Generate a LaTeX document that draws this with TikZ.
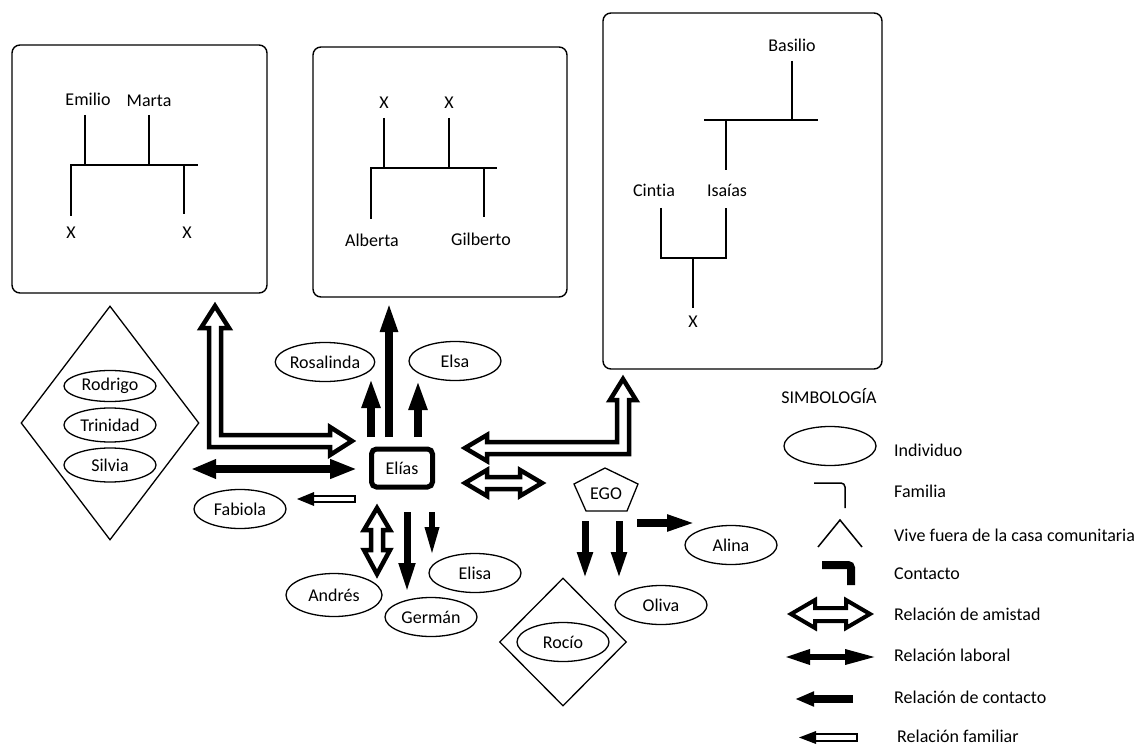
\documentclass[tikz,border=0pt]{standalone}
\usepackage{fontspec}
\setmainfont[Ligatures=CommonOff]{Carlito}
\usetikzlibrary{shapes.geometric,arrows.meta}
\begin{document}
\begin{tikzpicture}[x=1pt,y=-1pt,
  every node/.style={font=\fontsize{18pt}{21pt}\selectfont, inner sep=0pt},
  txt/.style={text height=12pt, text depth=4pt},
  indiv/.style={ellipse, draw, line width=1.3pt, minimum width=92pt, minimum height=39pt},
  famframe/.style={draw, line width=1.4pt, rounded corners=8pt},
  kin/.style={line width=2pt},
  blockarr/.style={draw, line width=4.5pt, fill=white, line join=miter},
  solidarr/.style args={#1/#2/#3}{line width=#1, -{Triangle[length=#2,width=#3]}},
  laboralarr/.style={line width=8pt, {Triangle[length=25pt,width=18pt]}-{Triangle[length=27pt,width=18pt]}},
  famshaft/.style={draw, line width=1.8pt, fill=white},
  famhead/.style={fill=black},
]
\useasboundingbox (0,0) rectangle (1143,746);

% ---------- family frames ----------
\node[famframe, minimum width=255pt, minimum height=248pt] (box1) at (139.5,169) {};
\node[famframe, minimum width=254pt, minimum height=250pt] (box2) at (440,172) {};
\node[famframe, minimum width=279pt, minimum height=356pt] (box3) at (742.5,191) {};

% box 1 tree
\node[txt] (emilio) at (88,102) {Emilio};
\node[txt] (marta) at (149,103) {Marta};
\node[txt] (x1a) at (71,235) {X};
\node[txt] (x1b) at (187,235) {X};
\draw[kin] (85,115) -- (85,165);
\draw[kin] (149,115) -- (149,165);
\draw[kin] (70,165) -- (198,165);
\draw[kin] (71,165) -- (71,216);
\draw[kin] (184,165) -- (184,214);

% box 2 tree
\node[txt] (x2a) at (384,105) {X};
\node[txt] (x2b) at (449,105) {X};
\node[txt] (alberta) at (372,242) {Alberta};
\node[txt] (gilberto) at (481,241) {Gilberto};
\draw[kin] (384,118) -- (384,168);
\draw[kin] (449,118) -- (449,168);
\draw[kin] (370,168) -- (497,168);
\draw[kin] (371,168) -- (371,219);
\draw[kin] (484,168) -- (484,217);

% box 3 tree
\node[txt] (basilio) at (792,48) {Basilio};
\node[txt] (isaias) at (727,193) {Isaías};
\node[txt] (cintia) at (654,193) {Cintia};
\node[txt] (x3) at (693,323) {X};
\draw[kin] (792,61) -- (792,120);
\draw[kin] (704,120) -- (818,120);
\draw[kin] (726,120) -- (726,170);
\draw[kin] (661,208) -- (661,258) -- (726,258) -- (726,208);
\draw[kin] (693,258) -- (693,308);

% ---------- left diamond group ----------
\node[diamond, draw, line width=1.3pt, minimum width=178pt, minimum height=234pt] (fam1) at (110,423) {};
\node[indiv, minimum height=31pt] (rodrigo) at (110,386) {Rodrigo};
\node[indiv, minimum height=34pt] (trinidad) at (110,425) {Trinidad};
\node[indiv, minimum height=34pt] (silvia) at (110,465) {Silvia};

% ---------- individuals ----------
\node[indiv, minimum width=94pt] (rosalinda) at (325,362) {Rosalinda};
\node[indiv] (elsa) at (455,361) {Elsa};
\node[indiv] (fabiola) at (240,509) {Fabiola};
\node[indiv, minimum width=96pt, minimum height=43pt] (andres) at (334,595) {Andrés};
\node[indiv] (german) at (431,617) {Germán};
\node[indiv] (elisa) at (475,573) {Elisa};
\node[indiv] (alina) at (731,545) {Alina};
\node[indiv] (oliva) at (661,605) {Oliva};
\node[diamond, draw, line width=1.3pt, minimum width=127pt, minimum height=128pt] (fam2) at (563,642) {};
\node[indiv] (rocio) at (563,642) {Rocío};

% Elías
\node[draw, line width=5pt, rounded corners=5pt, minimum width=61pt, minimum height=38pt] (elias) at (402,468) {Elías};

% EGO
\node (ego) at (606,494) {EGO};
\draw[line width=1.3pt] (605,468) -- (638,484) -- (627,511) -- (586,511) -- (574,484) -- cycle;

% ---------- block (friendship) arrows ----------
\path[blockarr] (215,306) -- (229,328) -- (221,328) -- (221,435) -- (330,435) -- (330,427) -- (352,441) -- (330,455) -- (330,447) -- (209,447) -- (209,328) -- (201,328) -- cycle;
\path[blockarr] (623,379) -- (636,400) -- (629,400) -- (629,454) -- (487,454) -- (487,461) -- (465,448) -- (487,435) -- (487,442) -- (617,442) -- (617,400) -- (610,400) -- cycle;
\path[blockarr] (465,483) -- (487,470) -- (487,477) -- (520,477) -- (520,470) -- (542,483) -- (520,496) -- (520,489) -- (487,489) -- (487,496) -- cycle;
\path[blockarr] (377,508) -- (390,530) -- (383,530) -- (383,550) -- (390,550) -- (377,574) -- (364,550) -- (371,550) -- (371,530) -- (364,530) -- cycle;

% ---------- solid arrows ----------
\coordinate (a6s) at (389,437); \coordinate (a6e) at (389,302);
\coordinate (a7s) at (371,437); \coordinate (a7e) at (371,378);
\coordinate (a8s) at (418,437); \coordinate (a8e) at (418,380);
\coordinate (a9s) at (407,512); \coordinate (a9e) at (407,593);
\coordinate (a10s) at (432,512); \coordinate (a10e) at (432,556);
\coordinate (a12s) at (585,521); \coordinate (a12e) at (585,580);
\coordinate (a13s) at (619,521); \coordinate (a13e) at (619,580);
\coordinate (a14s) at (637,523); \coordinate (a14e) at (696,523);
\coordinate (labL) at (191,469); \coordinate (labR) at (357,469);
\draw[solidarr=8pt/30pt/16pt] (a6s) -- (a6e);
\draw[solidarr=8pt/30pt/17pt] (a7s) -- (a7e);
\draw[solidarr=8pt/30pt/17pt] (a8s) -- (a8e);
\draw[solidarr=7pt/30pt/15pt] (a9s) -- (a9e);
\draw[solidarr=6pt/29pt/13pt] (a10s) -- (a10e);
\draw[solidarr=7pt/28pt/14pt] (a12s) -- (a12e);
\draw[solidarr=7pt/28pt/14pt] (a13s) -- (a13e);
\draw[solidarr=8pt/29pt/15pt] (a14s) -- (a14e);
\draw[laboralarr] (labL) -- (labR);

% familiar arrow to Fabiola
\path[famshaft] (313,496) rectangle (355,502);
\path[famhead] (297,499) -- (314,492) -- (314,506) -- cycle;

% ---------- legend ----------
\node[txt] (simb) at (829,399) {SIMBOLOGÍA};
\node[indiv] (legind) at (830,446) {};
\node[txt, anchor=west] (l1) at (894,452) {Individuo};
\draw[line width=1.5pt, rounded corners=4pt] (814,483) -- (845,483) -- (845,508);
\node[txt, anchor=west] (l2) at (894,493) {Familia};
\draw[line width=1.5pt] (818,547) -- (840,520) -- (862,547);
\node[txt, anchor=west] (l3) at (894,537) {Vive fuera de la casa comunitaria};
\draw[line width=8pt, rounded corners=3pt] (822,565) -- (851,565) -- (851,585);
\node[txt, anchor=west] (l4) at (894,575) {Contacto};
\path[draw, line width=4pt, fill=white, line join=miter] (791,614) -- (815,600) -- (815,608) -- (846,608) -- (846,600) -- (870,614) -- (846,628) -- (846,621) -- (815,621) -- (815,628) -- cycle;
\node[txt, anchor=west] (l5) at (894,616) {Relación de amistad};
\coordinate (legLabL) at (784,657); \coordinate (legLabR) at (877,657);
\draw[line width=6pt, {Triangle[length=26pt,width=14pt]}-{Triangle[length=32pt,width=14pt]}] (legLabL) -- (legLabR);
\node[txt, anchor=west] (l6) at (894,657) {Relación laboral};
\coordinate (legConS) at (853,699); \coordinate (legConE) at (795,699);
\draw[solidarr=8pt/19pt/14pt] (legConS) -- (legConE);
\node[txt, anchor=west] (l7) at (894,699) {Relación de contacto};
\path[famshaft] (815,734) rectangle (857,741);
\path[famhead] (799,737.5) -- (816,731) -- (816,744) -- cycle;
\node[txt, anchor=west] (l8) at (897,738) {Relación familiar};
\end{tikzpicture}
\end{document}
